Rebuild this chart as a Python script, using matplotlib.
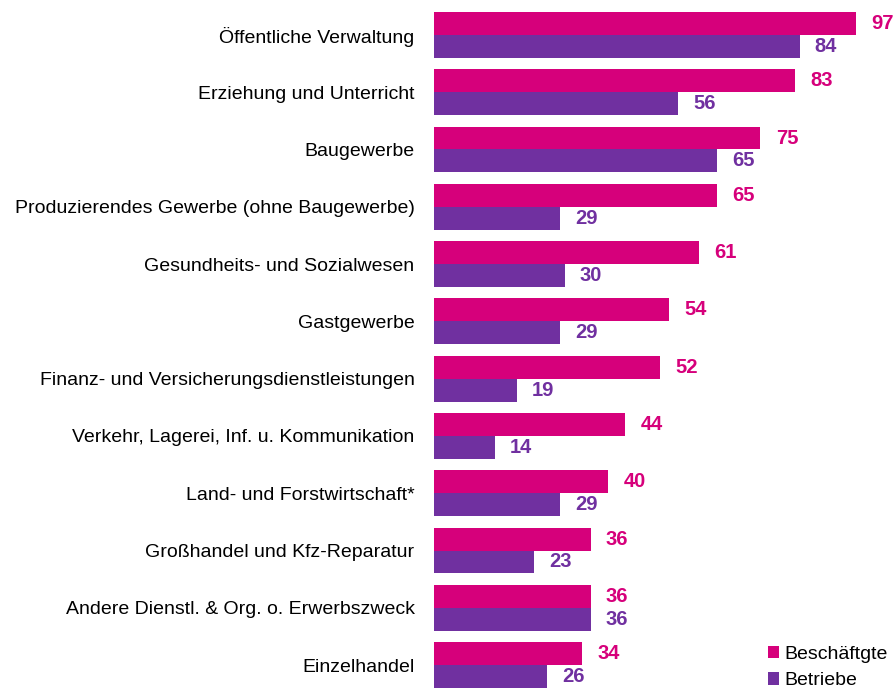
import matplotlib.pyplot as plt
import numpy as np

# sectors, top to bottom
sectors = [
    "Öffentliche Verwaltung",
    "Erziehung und Unterricht",
    "Baugewerbe",
    "Produzierendes Gewerbe (ohne Baugewerbe)",
    "Gesundheits- und Sozialwesen",
    "Gastgewerbe",
    "Finanz- und Versicherungsdienstleistungen",
    "Verkehr, Lagerei, Inf. u. Kommunikation",
    "Land- und Forstwirtschaft*",
    "Großhandel und Kfz-Reparatur",
    "Andere Dienstl. & Org. o. Erwerbszweck",
    "Einzelhandel",
]
beschaeftigte = [97, 83, 75, 65, 61, 54, 52, 44, 40, 36, 36, 34]
betriebe = [84, 56, 65, 29, 30, 29, 19, 14, 29, 23, 36, 26]

PINK = "#D6007B"
PURPLE = "#7030A0"

plt.rcParams['font.family'] = ['Liberation Sans', 'DejaVu Sans']

fig = plt.figure(figsize=(8.94, 6.88), dpi=100)
ax = fig.add_axes([434 / 894, 0, 460 / 894, 1])

y = np.arange(len(sectors))
h = 0.4
ax.barh(y - h / 2, beschaeftigte, height=h, color=PINK, label="Beschäftgte")
ax.barh(y + h / 2, betriebe, height=h, color=PURPLE, label="Betriebe")

val_font = dict(fontsize=14.5, fontweight='bold',
                family=['Liberation Sans Narrow', 'Liberation Sans'])
for i in range(len(sectors)):
    ax.text(beschaeftigte[i] + 3.5, y[i] - h / 2, str(beschaeftigte[i]),
            color=PINK, va='center', ha='left', **val_font)
    ax.text(betriebe[i] + 3.5, y[i] + h / 2, str(betriebe[i]),
            color=PURPLE, va='center', ha='left', **val_font)

ax.set_xlim(0, 105.7)
ax.set_ylim(11.4, -0.609)
ax.set_yticks(y)
ax.set_yticklabels(sectors, fontsize=14)
ax.tick_params(axis='y', length=0, pad=14)
ax.set_xticks([])
for s in ax.spines.values():
    s.set_visible(False)

fig.legend(loc='lower left', bbox_to_anchor=(756 / 894, -0.019),
           frameon=False, fontsize=14, handlelength=0.6, handleheight=0.6,
           handletextpad=0.25, labelspacing=0.5, borderpad=0.1)

fig.savefig("out.png", dpi=100)
